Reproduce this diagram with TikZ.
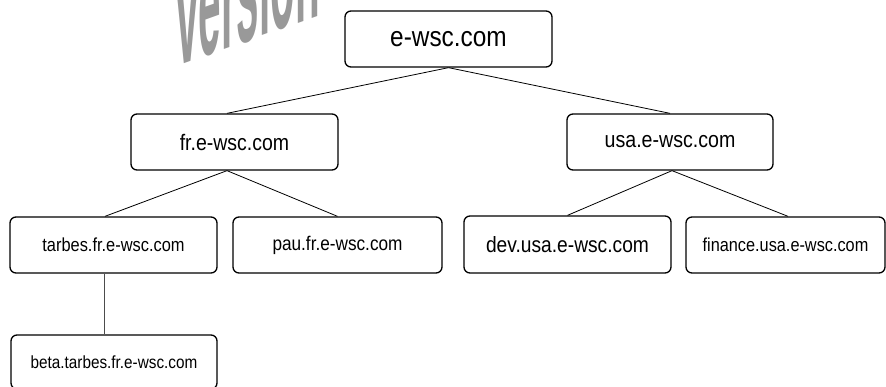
\documentclass[tikz,border=0pt]{standalone}
\usepackage{fontspec}
\usepackage{graphicx}
\setmainfont{Liberation Sans}
\tikzset{
  dom/.style={draw=black, line width=1.3pt, rounded corners=6pt, inner sep=0pt},
  link/.style={draw=black, line width=0.8pt},
}
\newcommand{\tx}[2]{\scalebox{1}[1.15]{\fontsize{#1}{#1}\selectfont #2}}
\begin{document}
\begin{tikzpicture}[x=1pt,y=-1pt]
\useasboundingbox (0,0) rectangle (886,387);
\clip (0,0) rectangle (886,387);
% watermark
\begin{scope}[shift={(176,67)}, yslant=0.36]
  \node[anchor=base west, inner sep=0pt, text=black!40, transform shape,
        font=\fontsize{47}{47}\selectfont\bfseries] (wm) {\scalebox{0.86}[3.2]{version}};
\end{scope}
% boxes
\node[dom, minimum width=207pt, minimum height=56pt] (root) at (448.5,39) {\tx{24.4}{e-wsc.com}};
\node[dom, minimum width=207pt, minimum height=56pt] (fr) at (234.5,142) {\tx{19.5}{fr.e-wsc.com}};
\node[dom, minimum width=206pt, minimum height=56pt] (usa) at (670,142) {\tx{19.6}{usa.e-wsc.com}};
\node[dom, minimum width=207pt, minimum height=56pt] (tarbes) at (113.5,245) {\tx{16.4}{tarbes.fr.e-wsc.com}};
\node[dom, minimum width=209pt, minimum height=56pt] (pau) at (337.5,245) {\tx{17.2}{pau.fr.e-wsc.com}};
\node[dom, minimum width=207pt, minimum height=57pt] (dev) at (567.5,244.5) {\tx{19.2}{dev.usa.e-wsc.com}};
\node[dom, minimum width=199pt, minimum height=56pt] (fin) at (785.5,245) {\tx{16.3}{finance.usa.e-wsc.com}};
\node[dom, minimum width=206pt, minimum height=54pt] (beta) at (114,362) {\tx{15.3}{beta.tarbes.fr.e-wsc.com}};
% connectors
\draw[link] (root.south) -- ([xshift=-7.5pt]fr.north);
\draw[link] (root.south) -- (usa.north);
\draw[link] ([xshift=-7.5pt]fr.south) -- ([xshift=-8.5pt]tarbes.north);
\draw[link] ([xshift=-7.5pt]fr.south) -- (pau.north);
\draw[link] ([xshift=2pt]usa.south) -- (dev.north);
\draw[link] ([xshift=2pt]usa.south) -- ([xshift=2.5pt]fin.north);
\draw[link, draw=black!70, line width=1pt] ([xshift=-9.5pt]tarbes.south) -- ([xshift=-10pt]beta.north);
\end{tikzpicture}
\end{document}
